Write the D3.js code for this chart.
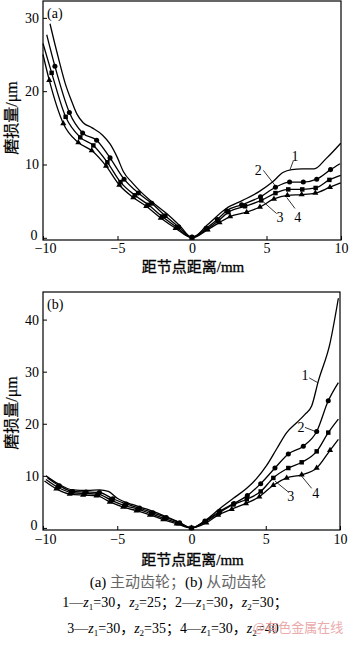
<!DOCTYPE html>
<html><head><meta charset="utf-8">
<script src="https://cdn.jsdelivr.net/npm/d3@7"></script>
<style>body{margin:0;background:#fff}</style>
</head><body><svg id="c" width="350" height="645"></svg>
<script>
// ---------- data ----------
const xTicks = [-10, -5, 0, 5, 10];
const yTicksA = [0, 10, 20, 30];
const yTicksB = [0, 10, 20, 30, 40];
const seriesNames = ["1", "2", "3", "4"];
const markerTypes = ["none", "circle", "square", "triangle"];

// (a) driving gear
const a1 = [[-9.53,29.2],[-9.2,26.4],[-8.9,24.0],[-8.5,21.0],[-8.07,18.6],[-7.7,16.8],[-7.3,15.7],[-6.7,15.0],[-6.0,14.0],[-5.5,12.8],[-5.0,10.9],[-4.6,9.0],[-4.0,7.5],[-3.4,6.2],[-2.8,5.1],[-1.7,3.3],[-0.8,1.6],[0,0],[1.0,1.7],[2.3,4.0],[3.4,5.1],[4.5,6.3],[5.4,7.6],[6.1,8.9],[6.7,9.3],[7.4,9.4],[8.2,9.4],[9.0,10.8],[9.98,12.9]];
const a2 = [[-9.75,27.7],[-9.2,23.4],[-8.23,17.1],[-7.34,14.3],[-6.4,13.3],[-5.5,10.9],[-4.56,8.0],[-3.6,6.1],[-2.7,4.7],[-1.8,3.0],[-0.9,1.5],[0,0.1],[0.95,1.3],[1.7,2.5],[2.33,3.7],[3.33,4.5],[4.6,5.6],[5.6,6.9],[6.55,7.6],[7.47,7.6],[8.37,8.0],[9.3,9.3],[9.93,10.1]];
const a3 = [[-10,26.5],[-9.42,22.5],[-8.48,16.5],[-7.5,13.7],[-6.62,12.6],[-5.68,10.3],[-4.8,7.6],[-3.83,5.8],[-2.93,4.5],[-2.0,2.9],[-1.0,1.4],[0,0.05],[1.0,1.2],[1.75,2.3],[2.44,3.5],[3.56,4.3],[4.65,5.1],[5.6,6.1],[6.46,6.6],[7.4,6.6],[8.3,6.8],[9.22,7.9],[9.98,8.5]];
const a4 = [[-10,25.0],[-9.58,21.5],[-8.64,15.6],[-7.63,13.0],[-6.73,11.9],[-5.77,9.8],[-4.88,7.2],[-3.94,5.5],[-3.07,4.3],[-2.1,2.7],[-1.1,1.3],[0,0],[1.05,1.1],[1.85,2.1],[2.56,2.9],[3.67,3.5],[4.56,4.2],[5.5,5.3],[6.4,5.8],[7.36,5.9],[8.28,6.1],[9.26,6.9],[9.98,7.5]];

// (b) driven gear
const b1 = [[-9.8,10.0],[-9.0,8.5],[-8.0,7.3],[-7.0,7.2],[-6.2,7.3],[-5.6,7.0],[-5.0,5.7],[-4.0,4.5],[-3.0,3.6],[-2.0,2.5],[-1.0,1.3],[0,0],[1.0,1.6],[1.92,3.75],[2.82,5.7],[3.72,7.6],[4.39,9.5],[5.06,12.0],[5.74,15.2],[6.41,18.3],[7.08,20.2],[7.64,21.8],[8.09,23.4],[8.54,28.2],[9.33,35.5],[9.89,44.1]];
const b2 = [[-9.7,9.6],[-8.9,8.1],[-8.0,7.0],[-7.1,6.9],[-6.2,6.8],[-5.3,5.6],[-4.4,4.6],[-3.5,3.8],[-2.6,2.9],[-1.7,2.0],[-0.8,1.0],[0,0],[0.9,1.3],[1.9,3.2],[2.86,4.7],[3.76,6.2],[4.66,8.5],[5.62,11.5],[6.52,14.2],[7.53,15.7],[8.43,18.5],[9.21,24.4],[9.89,27.9]];
const b3 = [[-9.8,9.3],[-9.0,7.8],[-8.1,6.8],[-7.2,6.6],[-6.3,6.5],[-5.4,5.3],[-4.5,4.3],[-3.6,3.6],[-2.7,2.7],[-1.8,1.8],[-0.9,0.9],[0,0],[0.95,1.2],[1.85,2.9],[2.82,4.5],[3.72,5.5],[4.66,7.0],[5.51,9.6],[6.52,11.5],[7.42,12.6],[8.43,14.7],[9.21,18.3],[9.89,20.9]];
const b4 = [[-9.9,9.0],[-9.1,7.5],[-8.2,6.5],[-7.3,6.3],[-6.4,6.2],[-5.5,5.0],[-4.6,4.0],[-3.7,3.3],[-2.8,2.5],[-1.9,1.6],[-1.0,0.8],[0,0],[1.0,1.0],[1.8,2.5],[2.71,3.6],[3.67,4.7],[4.57,6.0],[5.51,8.2],[6.41,9.6],[7.42,10.2],[8.43,11.5],[9.33,14.9],[9.89,17.0]];

// curve labels: text anchor and leader line, in data units
const labelsA = [
  {t:"1", tx:6.91, ty:11.2, x1:6.58, y1:9.3, x2:6.8, y2:10.5},
  {t:"2", tx:4.45, ty:9.2, x1:4.79, y1:9.2, x2:5.57, y2:7.15},
  {t:"3", tx:5.91, ty:2.86, x1:5.68, y1:3.3, x2:4.79, y2:4.9},
  {t:"4", tx:7.09, ty:2.86, x1:6.91, y1:4.0, x2:6.36, y2:5.5}
];
const labelsB = [
  {t:"1", tx:7.64, ty:29.3, x1:7.93, y1:28.8, x2:8.5, y2:27.9},
  {t:"2", tx:7.37, ty:19.3, x1:7.64, y1:19.3, x2:8.36, y2:18.5},
  {t:"3", tx:6.68, ty:6.15, x1:6.52, y1:6.9, x2:5.62, y2:9.0},
  {t:"4", tx:8.36, ty:6.6, x1:8.09, y1:7.6, x2:7.37, y2:10.1}
];

const xTitle = "距节点距离/mm";
const yTitle = "磨损量/μm";

// ---------- drawing ----------
const svg = d3.select("#c");
const serif = "'Liberation Serif','Times New Roman','Noto Sans CJK SC',serif";
const cjk = "'Noto Sans CJK SC','Liberation Serif',sans-serif";

function panel(opt) {
  const x = d3.scaleLinear().domain([-10, 10]).range([opt.left, opt.right]);
  const y = d3.scaleLinear().domain(opt.yDomain).range([opt.bottom, opt.top]);
  const g = svg.append("g");

  // frame
  g.append("rect").attr("x", opt.left).attr("y", opt.top)
    .attr("width", opt.right - opt.left).attr("height", opt.bottom - opt.top)
    .attr("fill", "none").attr("stroke", "#000").attr("stroke-width", 1.2);

  // axes
  const xa = g.append("g").attr("transform", `translate(0,${opt.bottom})`)
    .call(d3.axisBottom(x).tickValues(xTicks).tickSize(-4).tickPadding(opt.xPad));
  const ya = g.append("g").attr("transform", `translate(${opt.left},0)`)
    .call(d3.axisLeft(y).tickValues(opt.yTicks).tickSize(-4).tickPadding(4));
  [xa, ya].forEach(a => {
    a.select(".domain").remove();
    a.selectAll("text").attr("font-family", serif).attr("font-size", 14).attr("fill", "#000");
    a.selectAll("line").attr("stroke", "#000");
  });
  // lift the "0" y label slightly, as in the original
  ya.selectAll(".tick").filter(d => d === 0).select("text").attr("dy", "0.1em").attr("dx", "-0.1em");
  xa.selectAll(".tick").filter(d => d === -10).select("text").attr("dx", "0.15em");

  const line = d3.line().x(d => x(d[0])).y(d => y(d[1])).curve(d3.curveMonotoneX);
  opt.series.forEach((s, i) => {
    g.append("path").attr("d", line(s)).attr("fill", "none")
      .attr("stroke", "#000").attr("stroke-width", 1.3);
    const mt = markerTypes[i];
    if (mt === "none") return;
    const sym = mt === "circle" ? d3.symbolCircle : mt === "square" ? d3.symbolSquare : d3.symbolTriangle;
    const size = mt === "circle" ? 20 : mt === "square" ? 20 : 16;
    g.selectAll(null).data(s.slice(1, -1)).enter().append("path")
      .attr("d", d3.symbol().type(sym).size(size))
      .attr("transform", d => `translate(${x(d[0])},${y(d[1])})`)
      .attr("fill", "#000");
  });

  // curve labels
  opt.labels.forEach(l => {
    g.append("line").attr("x1", x(l.x1)).attr("y1", y(l.y1)).attr("x2", x(l.x2)).attr("y2", y(l.y2))
      .attr("stroke", "#000").attr("stroke-width", 0.8);
    g.append("text").attr("x", x(l.tx)).attr("y", y(l.ty)).attr("dy", "0.35em")
      .attr("text-anchor", "middle").attr("font-family", serif).attr("font-size", 14).text(l.t);
  });

  // tag
  g.append("text").attr("x", opt.left + 4).attr("y", opt.top + 17)
    .attr("font-family", serif).attr("font-size", 14).text(opt.tag);

  // titles
  g.append("text").attr("x", (opt.left + opt.right) / 2 + 1).attr("y", opt.xTitleY)
    .attr("text-anchor", "middle").attr("font-family", serif).attr("font-size", 15)
    .attr("fill", "#000").attr("stroke", "#000").attr("stroke-width", 0.3).text(xTitle);
  g.append("text").attr("transform", `translate(17,${opt.yTitleY}) rotate(-90)`)
    .attr("text-anchor", "middle").attr("font-family", serif).attr("font-size", 16)
    .attr("fill", "#000").attr("stroke", "#000").attr("stroke-width", 0.2).text(yTitle);
}

panel({left:43, right:341, top:1, bottom:240, yDomain:[-0.3, 32.3], yTicks:yTicksA,
  series:[a1,a2,a3,a4], labels:labelsA, tag:"(a)", xPad:3, xTitleY:272, yTitleY:118});
panel({left:43, right:340, top:292, bottom:530, yDomain:[-0.4, 45.3], yTicks:yTicksB,
  series:[b1,b2,b3,b4], labels:labelsB, tag:"(b)", xPad:4, xTitleY:565, yTitleY:413});

// caption
const cap1 = svg.append("text").attr("x", 178).attr("y", 587).attr("text-anchor", "middle")
  .attr("font-family", serif).attr("font-size", 15);
cap1.append("tspan").text("(a) ");
cap1.append("tspan").attr("fill", "#666").attr("font-family", cjk).text("主动齿轮；");
cap1.append("tspan").text("(b) ");
cap1.append("tspan").attr("fill", "#666").attr("font-family", cjk).text("从动齿轮");

function zLine(yPos, parts, xc) {
  const t = svg.append("text").attr("x", xc).attr("y", yPos).attr("text-anchor", "middle")
    .attr("font-family", serif).attr("font-size", 14);
  parts.forEach(p => {
    if (p.k === "z") {
      t.append("tspan").attr("font-style", "italic").text("z");
      t.append("tspan").attr("font-size", 9).attr("dy", 3).text(p.s);
      t.append("tspan").attr("dy", -3).text(p.v);
    } else {
      t.append("tspan").text(p.v);
    }
  });
}
zLine(607, [{v:"1—"},{k:"z",s:"1",v:"=30，"},{k:"z",s:"2",v:"=25；2—"},{k:"z",s:"1",v:"=30，"},{k:"z",s:"2",v:"=30；"}], 175);
zLine(633, [{v:"3—"},{k:"z",s:"1",v:"=30，"},{k:"z",s:"2",v:"=35；4—"},{k:"z",s:"1",v:"=30，"},{k:"z",s:"2",v:"=40"}], 173);

svg.append("text").attr("x", 298).attr("y", 632).attr("text-anchor", "middle")
  .attr("font-family", cjk).attr("font-size", 13).attr("fill", "#eaa2a2").attr("opacity", 0.9)
  .text("@有色金属在线");
</script></body></html>
